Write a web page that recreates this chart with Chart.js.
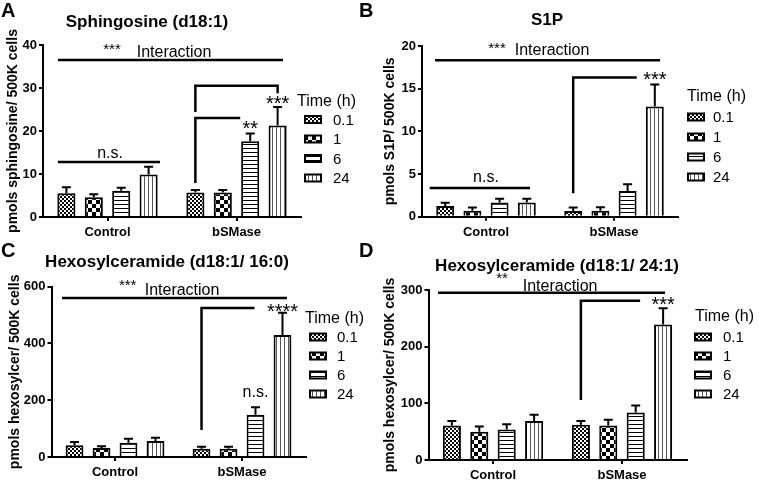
<!DOCTYPE html>
<html>
<head>
<meta charset="utf-8">
<title>Sphingolipids after bSMase</title>
<script src="https://cdn.jsdelivr.net/npm/chart.js@4.4.0/dist/chart.umd.min.js"></script>
<style>
  html, body { margin: 0; padding: 0; background: #fff; }
  #page { position: relative; width: 759px; height: 485px; overflow: hidden; background: #fff; }
  #page canvas { position: absolute; }
</style>
</head>
<body>
<div id="page">
  <canvas id="chartA"></canvas>
  <canvas id="chartC"></canvas>
  <canvas id="chartB"></canvas>
  <canvas id="chartD"></canvas>
</div>
<script>
// groups on the x axis, time points = datasets
const groups = ['Control', 'bSMase'];
const times = ['0.1', '1', '6', '24'];

// rows = time point, columns = [Control, bSMase]; err = top of the error bar
const sphMean = [[5.5, 5.7], [4.6, 5.7], [6.1, 17.6], [9.9, 21.3]];
const sphErr  = [[6.9, 6.3], [5.3, 6.3], [6.8, 19.4], [11.7, 25.6]];

const s1pMean = [[1.25, 0.68], [0.7, 0.7], [1.65, 3.0], [1.65, 12.9]];
const s1pErr  = [[1.62, 1.08], [1.08, 1.1], [2.1, 3.8], [2.1, 15.5]];

const hex16Mean = [[41, 29], [32, 29], [50, 149], [56, 430]];
const hex16Err  = [[53, 36], [38, 36], [64, 175], [68, 508]];

const hex24Mean = [[61, 62], [50, 61], [54, 84], [69, 239]];
const hex24Err  = [[69, 69], [59, 71], [63, 96], [80, 268]];

const FONT = 'Arial, "Liberation Sans", Helvetica, sans-serif';

// fill patterns like the GraphPad bars
function makePattern(kind) {
    const c = document.createElement('canvas');
    const g = c.getContext('2d');
    if (kind === 'fine') {
        c.width = 4; c.height = 4;
        g.fillStyle = '#fff'; g.fillRect(0, 0, 4, 4);
        g.fillStyle = '#000'; g.fillRect(0, 0, 2, 2); g.fillRect(2, 2, 2, 2);
    } else if (kind === 'check') {
        c.width = 8; c.height = 8;
        g.fillStyle = '#fff'; g.fillRect(0, 0, 8, 8);
        g.fillStyle = '#000'; g.fillRect(0, 0, 4, 4); g.fillRect(4, 4, 4, 4);
    } else if (kind === 'hstripe') {
        c.width = 4; c.height = 4;
        g.fillStyle = '#fff'; g.fillRect(0, 0, 4, 4);
        g.fillStyle = '#000'; g.fillRect(0, 0, 4, 1);
    } else {
        c.width = 4; c.height = 4;
        g.fillStyle = '#fff'; g.fillRect(0, 0, 4, 4);
        g.fillStyle = '#555'; g.fillRect(0, 0, 1, 4);
    }
    return g.createPattern(c, 'repeat');
}

const patterns = [makePattern('fine'), makePattern('check'), makePattern('hstripe'), makePattern('vstripe')];

// x of an annotation point: number = category index units, array = [group, time, dx] bar ref
function xPix(chart, x) {
    if (Array.isArray(x)) {
        const bar = chart.getDatasetMeta(x[1]).data[x[0]];
        return bar.x + (x[2] || 0);
    }
    return chart.scales.x.getPixelForValue(x);
}

const figurePlugin = {
    id: 'figure',
    afterDatasetsDraw(chart, args, o) {
        const ctx = chart.ctx;
        const ys = chart.scales.y;
        const ox = o.box[0], oy = o.box[1];
        ctx.save();
        ctx.strokeStyle = '#000';
        ctx.fillStyle = '#000';
        ctx.lineWidth = 2;

        // error bars (upper only)
        o.err.forEach((row, t) => {
            const meta = chart.getDatasetMeta(t);
            row.forEach((v, g) => {
                const bar = meta.data[g];
                const yt = ys.getPixelForValue(v);
                ctx.beginPath();
                ctx.moveTo(bar.x, bar.y);
                ctx.lineTo(bar.x, yt);
                ctx.moveTo(bar.x - 4.5, yt);
                ctx.lineTo(bar.x + 4.5, yt);
                ctx.stroke();
            });
        });

        // significance lines, brackets and labels
        ctx.lineWidth = 2.5;
        ctx.textAlign = 'center';
        ctx.textBaseline = 'alphabetic';
        o.notes.forEach(n => {
            if (n.line) {
                ctx.beginPath();
                n.line.forEach((p, i) => {
                    const x = xPix(chart, p[0]), y = ys.getPixelForValue(p[1]);
                    if (i) ctx.lineTo(x, y); else ctx.moveTo(x, y);
                });
                ctx.stroke();
            } else {
                ctx.font = n.size + 'px ' + FONT;
                ctx.fillText(n.text, xPix(chart, n.at[0]), ys.getPixelForValue(n.at[1]));
            }
        });

        // panel title and letter
        ctx.font = 'bold 17px ' + FONT;
        ctx.fillText(o.title, o.titleX - ox, o.titleY - oy);
        ctx.textAlign = 'left';
        ctx.font = 'bold 20px ' + FONT;
        ctx.fillText(o.letter, o.letterX - ox, o.letterY - oy);

        // legend
        const lg = o.legend;
        ctx.font = '16px ' + FONT;
        ctx.fillText('Time (h)', lg.titleX - ox, lg.titleY - oy);
        ctx.font = '15px ' + FONT;
        ctx.lineWidth = 2;
        chart.data.datasets.forEach((ds, i) => {
            const cy = lg.firstY + i * lg.stepY - oy;
            const bx = lg.boxX - ox;
            ctx.fillStyle = ds.backgroundColor;
            ctx.fillRect(bx, cy - 3.5, 16, 7);
            ctx.strokeRect(bx, cy - 3.5, 16, 7);
            ctx.fillStyle = '#000';
            ctx.fillText(ds.label, lg.labelX - ox, cy + 5.4);
        });
        ctx.restore();
    }
};

const panels = [
    {
        id: 'chartA', letter: 'A', letterX: 1, letterY: 17,
        title: 'Sphingosine (d18:1)', titleX: 147, titleY: 27,
        box: [0, 0, 380, 242], area: [43, 45, 301, 217], padLeft: 0, yTitlePad: 4.6,
        yTitle: 'pmols sphingosine/ 500K cells', yMax: 40, yStep: 10,
        mean: sphMean, err: sphErr,
        legend: { titleX: 297, titleY: 106, boxX: 305, labelX: 333, firstY: 119.5, stepY: 19.5 },
        notes: [
            { line: [[-0.384, 36.5], [1.36, 36.5]] },
            { text: '***', at: [0.035, 37.9], size: 15 },
            { text: 'Interaction', at: [0.516, 37.3], size: 16 },
            { line: [[-0.384, 12.8], [0.407, 12.8]] },
            { text: 'n.s.', at: [0.02, 13.65], size: 16 },
            { line: [[[1, 0], 24.4], [[1, 0], 30.5], [[1, 3], 30.5], [[1, 3], 28.8]] },
            { line: [[[1, 0], 7.9], [[1, 0], 23], [[1, 2, -10], 23]] },
            { text: '**', at: [[1, 2], 19.0], size: 20 },
            { text: '***', at: [[1, 3], 25.0], size: 20 }
        ]
    },
    {
        id: 'chartB', letter: 'B', letterX: 359, letterY: 17,
        title: 'S1P', titleX: 547, titleY: 25,
        box: [358, 0, 401, 242], area: [422, 46, 678, 216.7], padLeft: 22, yTitlePad: 2,
        yTitle: 'pmols S1P/ 500K cells', yMax: 20, yStep: 5,
        mean: s1pMean, err: s1pErr,
        legend: { titleX: 687, titleY: 101, boxX: 688, labelX: 713, firstY: 117, stepY: 20 },
        notes: [
            { line: [[-0.398, 18.33], [1.36, 18.33]] },
            { text: '***', at: [0.086, 19.2], size: 15 },
            { text: 'Interaction', at: [0.516, 18.9], size: 16 },
            { line: [[-0.44, 3.36], [0.344, 3.36]] },
            { text: 'n.s.', at: [0, 4.1], size: 16 },
            { line: [[[1, 0], 2.75], [[1, 0], 16.3], [[1, 3, -18], 16.3]] },
            { text: '***', at: [[1, 3], 15.3], size: 20 }
        ]
    },
    {
        id: 'chartC', letter: 'C', letterX: 1, letterY: 257,
        title: 'Hexosylceramide (d18:1/ 16:0)', titleX: 167, titleY: 267,
        box: [0, 240, 380, 245], area: [51.5, 286.7, 305.5, 457], padLeft: 0, yTitlePad: 6.6,
        yTitle: 'pmols hexosylcer/ 500K cells', yMax: 600, yStep: 200,
        mean: hex16Mean, err: hex16Err,
        legend: { titleX: 305, titleY: 323, boxX: 310, labelX: 337, firstY: 337, stepY: 19 },
        notes: [
            { line: [[-0.417, 560], [1.354, 560]] },
            { text: '***', at: [0.1, 588], size: 15 },
            { text: 'Interaction', at: [0.528, 571], size: 16 },
            { line: [[[1, 0], 95], [[1, 0], 525], [[1, 3, -28], 525]] },
            { text: '****', at: [[1, 3], 491], size: 20 },
            { text: 'n.s.', at: [[1, 2], 212], size: 16 }
        ]
    },
    {
        id: 'chartD', letter: 'D', letterX: 359, letterY: 257,
        title: 'Hexosylceramide (d18:1/ 24:1)', titleX: 557, titleY: 271,
        box: [358, 240, 401, 245], area: [428.5, 290, 686.5, 460], padLeft: 22, yTitlePad: 1.6,
        yTitle: 'pmols hexosylcer/ 500K cells', yMax: 300, yStep: 100,
        mean: hex24Mean, err: hex24Err,
        legend: { titleX: 695, titleY: 321, boxX: 695, labelX: 723, firstY: 337, stepY: 19 },
        notes: [
            { line: [[-0.426, 295], [1.333, 295]] },
            { text: '**', at: [0.07, 311.6], size: 15 },
            { text: 'Interaction', at: [0.52, 298.6], size: 16 },
            { line: [[[1, 0], 106], [[1, 0], 281], [[1, 3, -23], 281]] },
            { text: '***', at: [[1, 3], 262.5], size: 20 }
        ]
    }
];

function makePanel(p) {
    const canvas = document.getElementById(p.id);
    const [bx, by, bw, bh] = p.box;
    const [aLeft, aTop, aRight, aBottom] = p.area;
    canvas.width = bw;
    canvas.height = bh;
    canvas.style.left = bx + 'px';
    canvas.style.top = by + 'px';
    canvas.style.width = bw + 'px';
    canvas.style.height = bh + 'px';

    const axisGrid = {
        display: true,
        drawOnChartArea: false,
        drawTicks: true,
        tickLength: 4,
        color: '#000',
        lineWidth: 2,
        offset: false
    };

    return new Chart(canvas, {
        type: 'bar',
        data: {
            labels: groups,
            datasets: times.map((t, i) => ({
                label: t,
                data: p.mean[i],
                backgroundColor: patterns[i],
                borderColor: '#000',
                borderWidth: 2,
                borderSkipped: 'bottom',
                categoryPercentage: 0.85,
                barPercentage: 0.66
            }))
        },
        plugins: [figurePlugin],
        options: {
            responsive: false,
            animation: false,
            layout: {
                padding: { left: p.padLeft, top: aTop - by, right: bx + bw - aRight, bottom: 0 }
            },
            plugins: {
                legend: { display: false },
                tooltip: { enabled: false },
                figure: p
            },
            scales: {
                x: {
                    offset: true,
                    grid: axisGrid,
                    border: { display: true, color: '#000', width: 2 },
                    ticks: { color: '#000', padding: 4, font: { family: FONT, size: 13, weight: 'bold' } },
                    afterFit: s => { s.height = by + bh - aBottom; }
                },
                y: {
                    min: 0,
                    max: p.yMax,
                    grid: axisGrid,
                    border: { display: true, color: '#000', width: 2 },
                    ticks: { stepSize: p.yStep, color: '#000', padding: 2, font: { family: FONT, size: 13, weight: 'bold' } },
                    title: {
                        display: true,
                        text: p.yTitle,
                        color: '#000',
                        padding: { top: p.yTitlePad, bottom: 0 },
                        font: { family: FONT, size: 14, weight: 'bold' }
                    },
                    afterFit: s => { s.width = aLeft - bx - p.padLeft; }
                }
            }
        }
    });
}

panels.forEach(makePanel);
</script>
</body>
</html>
